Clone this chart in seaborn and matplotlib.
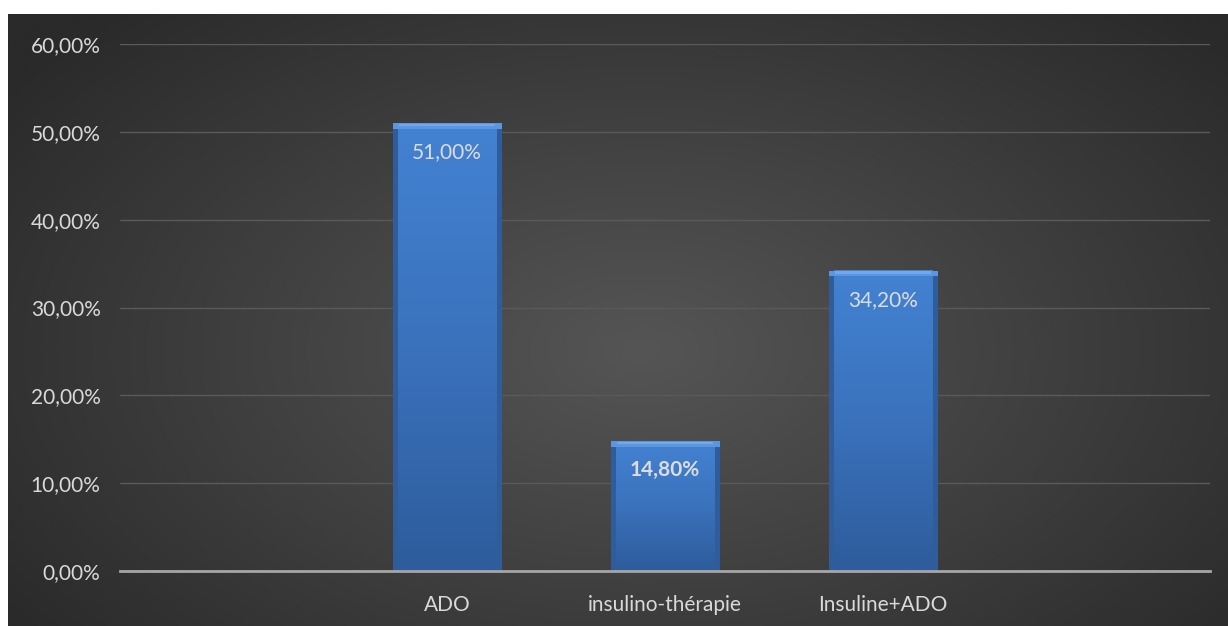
import numpy as np
import pandas as pd
import matplotlib.pyplot as plt
import seaborn as sns
from matplotlib.colors import LinearSegmentedColormap

# data
categories = ["", "ADO", "insulino-thérapie", "Insuline+ADO", " "]
bar_categories = ["ADO", "insulino-thérapie", "Insuline+ADO"]
values = [51.0, 14.8, 34.2]
value_labels = ["51,00%", "14,80%", "34,20%"]
bold_labels = [False, True, False]
yticks = [0, 10, 20, 30, 40, 50, 60]
ytick_labels = ["0,00%", "10,00%", "20,00%", "30,00%", "40,00%", "50,00%", "60,00%"]

df = pd.DataFrame({"cat": bar_categories, "val": values})

sns.set_theme(style="dark")
plt.rcParams["font.family"] = ["Lato", "DejaVu Sans"]

W, H = 1228, 626
fig = plt.figure(figsize=(W / 100, H / 100), dpi=100, facecolor="white")

# radial gradient background
bg = fig.add_axes([8 / W, 0, 1 - 8 / W, (H - 14) / H])
bg.set_axis_off()
yy, xx = np.mgrid[0:1:300j, 0:1:600j]
r = np.sqrt(((xx - 0.52) / 0.8) ** 2 + ((yy - 0.55) / 0.95) ** 2)
cmap_bg = LinearSegmentedColormap.from_list("bg", ["#555555", "#404040", "#2a2a2a"])
bg.imshow(r, cmap=cmap_bg, aspect="auto", extent=[0, 1, 0, 1], vmin=0, vmax=0.8)

# plot area: x 120..1210, y 0% at 571, 60% at 44
ax = fig.add_axes([120 / W, (H - 571) / H, 1090 / W, (571 - 44) / H])
ax.patch.set_alpha(0)

sns.barplot(data=df, x="cat", y="val", order=categories, color="#2f5d9c",
            width=0.5, ax=ax, saturation=1, zorder=3, linewidth=0)

ax.set_xticks(range(len(categories)))
ax.set_xticklabels(categories)
ax.set_yticks(yticks)
ax.set_yticklabels(ytick_labels)
ax.set_xlabel("")
ax.set_ylabel("")
ax.tick_params(axis="y", length=0, pad=14, labelsize=15, labelcolor="#d9d9d9")
ax.tick_params(axis="x", length=0, pad=17, labelsize=15, labelcolor="#d9d9d9")
for s in ["top", "right", "left"]:
    ax.spines[s].set_visible(False)
ax.spines["bottom"].set_color("#a6a6a6")
ax.spines["bottom"].set_linewidth(2)
ax.spines["bottom"].set_zorder(5)
ax.yaxis.grid(True, color="#5a5a5a", linewidth=1)
ax.xaxis.grid(False)
ax.set_axisbelow(True)

# bevelled vertical gradient on bars
grad = np.linspace(0, 1, 128)[:, None]
cmap_bar = LinearSegmentedColormap.from_list("bar", ["#2e5c9c", "#3a72bc", "#4382d2"])
for i, patch in enumerate(list(ax.patches)):
    x0, y0 = patch.get_x(), patch.get_y()
    w, h = patch.get_width(), patch.get_height()
    edge = 0.025
    ax.imshow(grad, cmap=cmap_bar, aspect="auto", origin="lower",
              extent=[x0 + edge, x0 + w - edge, y0, y0 + h], zorder=3.5)
    # top bevel
    ax.add_patch(plt.Rectangle((x0, y0 + h - 0.65), w, 0.65, color="#5b96e0",
                               zorder=3.6, linewidth=0))
    ax.add_patch(plt.Rectangle((x0 + 0.03, y0 + h - 0.35), w - 0.06, 0.25,
                               color="#73a8ec", zorder=3.7, linewidth=0))
    ax.text(x0 + w / 2, y0 + h - 2.2, value_labels[i], ha="center", va="top",
            fontsize=15, color="#dcdcdc",
            fontweight="bold" if bold_labels[i] else "normal", zorder=4)

ax.set_xlim(-0.5, len(categories) - 0.5)
ax.set_ylim(0, 60)

fig.savefig("out.png", dpi=100, facecolor="white")
